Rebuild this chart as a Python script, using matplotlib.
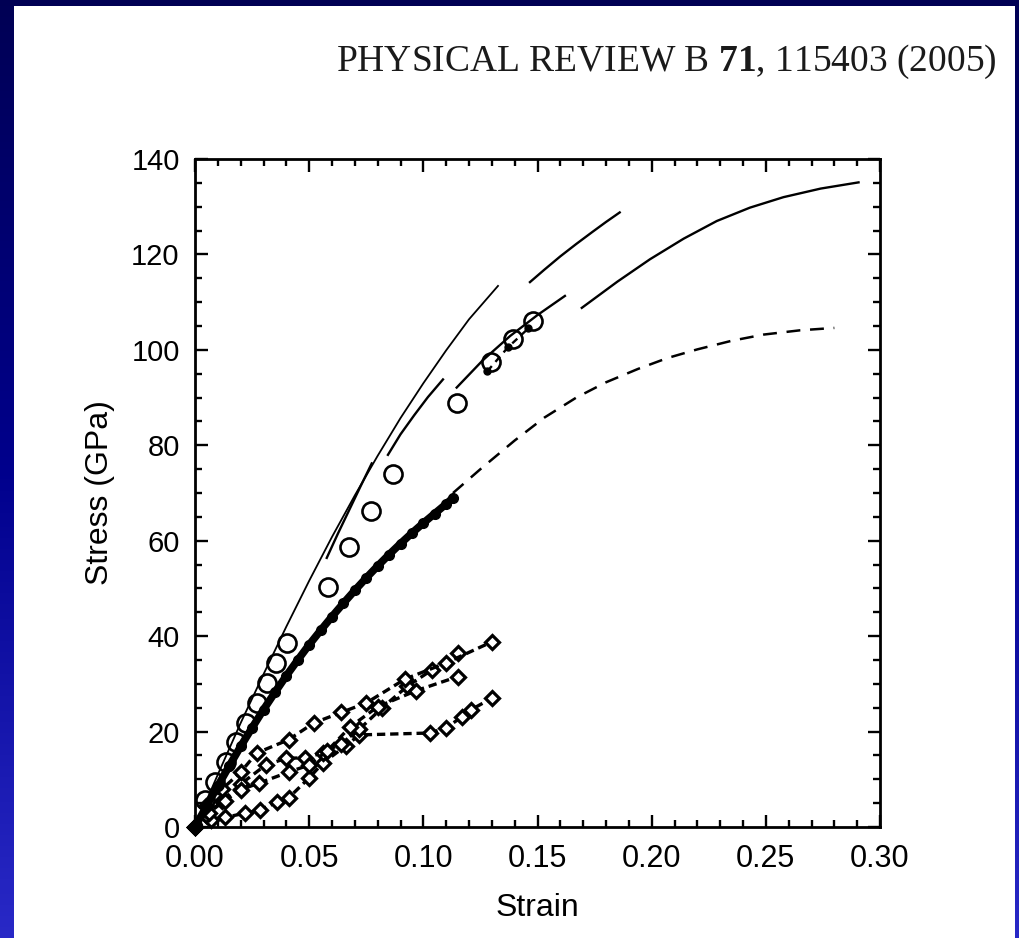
import numpy as np
import matplotlib
matplotlib.use("Agg")
import matplotlib.pyplot as plt
from matplotlib.patches import Rectangle
from matplotlib.ticker import MultipleLocator

plt.rcParams['font.family'] = ['Liberation Sans', 'DejaVu Sans']
plt.rcParams['mathtext.fontset'] = 'custom'
plt.rcParams['mathtext.rm'] = 'Liberation Serif'
plt.rcParams['mathtext.bf'] = 'Liberation Serif:bold'
plt.rcParams['lines.scale_dashes'] = False

# ---------------- data ----------------
header = "PHYSICAL REVIEW B $\\mathbf{71}$, 115403 (2005)"
x_label = "Strain"
y_label = "Stress (GPa)"
x_ticks = [0.00, 0.05, 0.10, 0.15, 0.20, 0.25, 0.30]
y_ticks = [0, 20, 40, 60, 80, 100, 120, 140]

# open circles
circ_x = [0.0044, 0.0088, 0.0136, 0.018, 0.0223, 0.027, 0.0314, 0.0355, 0.0404,
          0.0583, 0.0675, 0.0771, 0.0867, 0.1148, 0.1297, 0.1393, 0.148]
circ_y = [5.7, 9.4, 13.6, 17.8, 21.8, 26.0, 30.2, 34.4, 38.6,
          50.4, 58.6, 66.2, 73.9, 88.8, 97.4, 102.2, 106.0]

# dense filled dots
dot_x = [0, 0.005, 0.010, 0.015, 0.020, 0.025, 0.030, 0.035, 0.040, 0.045, 0.050, 0.055,
         0.060, 0.065, 0.070, 0.075, 0.080, 0.085, 0.090, 0.095, 0.100, 0.105, 0.110, 0.113]
dot_y = [0, 4.3, 8.6, 12.8, 16.9, 20.8, 24.6, 28.2, 31.7, 35.0, 38.2, 41.2,
         44.1, 46.9, 49.6, 52.2, 54.7, 57.1, 59.4, 61.6, 63.7, 65.7, 67.7, 69.0]

# dashed continuation of the dots
dash_x = [0.113, 0.125, 0.140, 0.153, 0.167, 0.180, 0.194, 0.207, 0.220, 0.235, 0.249, 0.265, 0.280]
dash_y = [70.0, 75.0, 81.0, 85.8, 90.0, 93.2, 96.0, 98.3, 100.1, 101.9, 103.2, 104.1, 104.6]

# short dashed piece through the last circles
tip_x = [0.128, 0.137, 0.146]
tip_y = [95.5, 100.5, 104.5]

# thin solid curve
solid_x = [0, 0.010, 0.020, 0.030, 0.040, 0.050, 0.060, 0.070, 0.080, 0.090, 0.100, 0.110, 0.120, 0.1327]
solid_y = [0, 11.0, 21.8, 32.0, 42.0, 51.6, 60.8, 69.5, 77.8, 85.7, 93.0, 99.9, 106.4, 113.4]

# long-dash curves (pieces separated by NaN)
long1_x = [0.0577, 0.0625, 0.0675, 0.0725, 0.0774, np.nan, 0.0845, 0.090, 0.096, 0.102, 0.1086,
           np.nan, 0.1467, 0.153, 0.160, 0.167, 0.174, 0.180, 0.186]
long1_y = [56.4, 61.4, 66.4, 71.4, 76.2, np.nan, 78.0, 82.3, 86.3, 90.1, 93.8,
           np.nan, 114.2, 116.8, 119.6, 122.2, 124.7, 126.8, 128.8]

long2_x = [0.1146, 0.126, 0.138, 0.150, 0.162, np.nan, 0.1694, 0.185, 0.1993, 0.214, 0.2285,
           0.243, 0.2577, 0.274, 0.2906]
long2_y = [92.1, 97.8, 102.9, 107.3, 111.3, np.nan, 108.8, 114.3, 119.0, 123.3, 127.0,
           129.8, 132.0, 133.8, 135.1]

# diamond series
dP_x = [0, 0.005, 0.012, 0.020, 0.027, 0.041, 0.052, 0.064, 0.075, 0.092, 0.110, 0.130]
dP_y = [0, 4.5, 8.0, 11.5, 15.5, 18.3, 21.8, 24.0, 26.0, 31.0, 34.4, 38.8]
dQ_x = [0, 0.006, 0.013, 0.020, 0.028, 0.041, 0.050, 0.058, 0.068, 0.080, 0.097, 0.115]
dQ_y = [0, 3.0, 5.5, 7.8, 9.2, 11.5, 13.0, 16.0, 21.0, 25.2, 28.6, 31.5]
dR_x = [0, 0.005, 0.012, 0.020, 0.031, 0.040, 0.048, 0.056, 0.064, 0.072, 0.082, 0.093, 0.104, 0.115]
dR_y = [0, 2.5, 5.5, 9.0, 13.0, 14.4, 14.5, 15.5, 17.5, 20.5, 25.0, 29.5, 33.0, 36.5]
dS_x = [0, 0.007, 0.013, 0.022, 0.0285, 0.036, 0.041, 0.050, 0.056, 0.066, 0.072, 0.103, 0.110, 0.117, 0.121, 0.130]
dS_y = [0, 1.5, 2.0, 2.9, 3.6, 5.2, 6.1, 10.3, 13.4, 17.0, 19.3, 19.7, 20.8, 23.1, 24.6, 27.0]

# ---------------- figure ----------------
W, H = 1019, 938
fig = plt.figure(figsize=(W / 100, H / 100), dpi=100)

bg = fig.add_axes([0, 0, 1, 1])
bg.set_xlim(0, 1); bg.set_ylim(0, 1); bg.axis('off')
t = np.linspace(0, 1, 256)[:, None]
top = np.array([0.0, 0.0, 0.33]); mid = np.array([0.0, 0.0, 0.55]); bot = np.array([0.16, 0.16, 0.78])
grad = np.where(t < 0.5, top + (mid - top) * (t / 0.5), mid + (bot - mid) * ((t - 0.5) / 0.5))
grad = np.repeat(grad[:, None, :], 4, axis=1).reshape(256, 4, 3)
bg.imshow(grad, extent=[0, 1, 0, 1], aspect='auto', origin='upper', zorder=0)
bg.add_patch(Rectangle((14 / W, 0), (1015 - 14) / W, (H - 6) / H, facecolor='white',
                       edgecolor='none', zorder=1))

fig.text(997 / W, 1 - 62 / H, header, ha='right', va='center', fontsize=27,
         family='Liberation Serif', color='#1a1a1a')

L, R, T, B = 195, 880, 159, 827
ax = fig.add_axes([L / W, 1 - B / H, (R - L) / W, (B - T) / H])
ax.set_facecolor('white')
ax.set_xlim(0, 0.30)
ax.set_ylim(0, 140)

k = 'black'
ax.plot(solid_x, solid_y, color=k, lw=1.3)
ax.plot(long1_x, long1_y, color=k, lw=1.7)
ax.plot(long2_x, long2_y, color=k, lw=1.7)
ax.plot(dash_x, dash_y, color=k, lw=1.8, dashes=(10, 7))
ax.plot(tip_x, tip_y, color=k, lw=1.7, dashes=(5, 4), marker='o', ms=5, clip_on=False)

for xs, ys in [(dS_x, dS_y), (dR_x, dR_y), (dQ_x, dQ_y), (dP_x, dP_y)]:
    ax.plot(xs, ys, color=k, lw=2.4, dashes=(6, 3.5), marker='D', ms=7.5,
            mfc='white', mec=k, mew=2.3, clip_on=False)

ax.plot(dot_x, dot_y, color=k, lw=5.5, marker='o', ms=7, clip_on=False)
ax.plot(circ_x, circ_y, ls='none', marker='o', ms=13, mfc='none', mec=k, mew=1.9, clip_on=False)

ax.set_xticks(x_ticks)
ax.set_xticklabels([f"{v:.2f}" for v in x_ticks])
ax.set_yticks(y_ticks)
ax.set_yticklabels([str(v) for v in y_ticks])
ax.xaxis.set_minor_locator(MultipleLocator(0.01))
ax.yaxis.set_minor_locator(MultipleLocator(5))
ax.tick_params(which='both', direction='in', top=True, right=True, width=1.7, color=k)
ax.tick_params(which='major', length=9)
ax.tick_params(which='minor', length=5)
ax.tick_params(axis='x', which='major', labelsize=22, pad=12)
ax.tick_params(axis='y', which='major', labelsize=21, pad=11)
for s in ax.spines.values():
    s.set_linewidth(2.0)
ax.set_xlabel(x_label, fontsize=23, labelpad=14)
ax.set_ylabel(y_label, fontsize=23, labelpad=12)

fig.savefig("out.png", dpi=100)
